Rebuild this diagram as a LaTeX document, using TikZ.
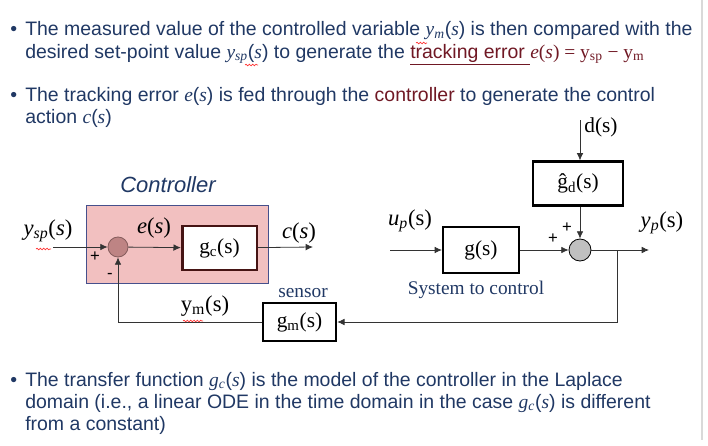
\documentclass[tikz,border=0pt]{standalone}
\usepackage{fontspec}
\setmainfont{Liberation Sans}
\newfontfamily\tnr{Liberation Serif}
\usepackage{tikz}
\usetikzlibrary{arrows.meta,positioning,decorations.pathmorphing}
\definecolor{textblue}{RGB}{32,56,100}
\definecolor{darkred}{RGB}{112,24,36}
\definecolor{ctrlpink}{RGB}{242,192,192}
\definecolor{ctrledge}{RGB}{70,80,140}
\definecolor{sumred}{RGB}{190,132,132}
\definecolor{gcedge}{RGB}{70,20,20}
\definecolor{sumgray}{RGB}{192,192,192}
\newcommand\mv[1]{{\tnr\itshape #1}}
\tikzset{
  bullet/.style={anchor=base west,inner sep=0pt,text=textblue,font=\fontsize{14.6}{17}\selectfont},
  tf/.style={rectangle,draw=black,line width=1.6pt,fill=white,inner sep=0pt,
             font=\tnr\fontsize{16}{18}\selectfont},
  sumpt/.style={circle,draw,inner sep=0pt,line width=0.6pt},
  sig/.style={-{Latex[length=5.5pt,width=5pt]},draw=black!80,line width=0.6pt},
  lbl/.style={inner sep=1pt,font=\tnr\fontsize{17}{19}\selectfont},
  sgn/.style={inner sep=0pt,font=\fontsize{12.5}{13}\selectfont},
  squiggle/.style={draw=red!80,line width=0.5pt,decorate,
                   decoration={snake,amplitude=0.6pt,segment length=2.5pt}},
}

\begin{document}
\begin{tikzpicture}[x=0.75pt,y=-0.75pt]
  \useasboundingbox (0,0) rectangle (708,446);
  \draw[black!15,line width=0.8pt] (702,0) -- (702,440);

  % top bullets
  \node[bullet] (b1) at (10,36) {\textbullet};
  \node[bullet] (l1) at (25,36)
     {The measured value of the controlled variable \mv{y}\textsubscript{\mv{m}}(\mv{s}) is then compared with the};
  \node[bullet] (l2) at (25,58)
     {desired set-point value \mv{y}\textsubscript{\mv{sp}}(\mv{s}) to generate the
      {\color{darkred}\underline{tracking error\ }{\tnr\mv{e}(\mv{s}) = y\textsubscript{sp} − y\textsubscript{m}}}};
  \node[bullet] (b2) at (10,101) {\textbullet};
  \node[bullet] (l3) at (25,101)
     {The tracking error \mv{e}(\mv{s}) is fed through the {\color{darkred}controller} to generate the control};
  \node[bullet] (l4) at (25,123) {action \mv{c}(\mv{s})};

  % controller
  \node[rectangle,draw=ctrledge,fill=ctrlpink,line width=0.6pt,
        minimum width=137pt,minimum height=58pt] (ctrlbox) at (177.5,244.5) {};
  \node[text=textblue,font=\itshape\fontsize{16.5}{18}\selectfont] (ctrllbl) at (168,185) {Controller};
  \node[sumpt,fill=sumred,draw=sumred!70!black,minimum size=15pt] (sum1) at (118,247) {};
  \node[tf,draw=gcedge,line width=2pt,minimum width=56pt,minimum height=33pt] (gc) at (219.5,248)
     {g\textsubscript{c}(s)};

  % process
  \node[tf,minimum width=57pt,minimum height=34pt] (g) at (481,250) {g(s)};
  \node[tf,minimum width=67.5pt,minimum height=33pt] (gd) at (578,183.5) {ĝ\textsubscript{d}(s)};
  \node[sumpt,fill=sumgray,minimum size=16.5pt] (sum2) at (580,250) {};
  \node[tf,minimum width=55pt,minimum height=28pt] (gm) at (299.5,322) {g\textsubscript{m}(s)};

  \coordinate (yspin) at (53,247);
  \coordinate (cout) at (313,247);
  \coordinate (upin) at (390,250);
  \coordinate (dtop) at (580,120);
  \coordinate (ypout) at (649,250);
  \coordinate (tap) at (617,250);

  \draw[sig] (yspin) -- (sum1);
  \draw[sig] (sum1) -- (gc);
  \draw[sig] (gc) -- (cout);
  \draw[sig] (upin) -- (g);
  \draw[sig] (g) -- (sum2);
  \draw[sig] (dtop) -- (sum2 |- gd.north);
  \draw[sig] (gd.south -| sum2) -- (sum2);
  \draw[sig] (sum2) -- (ypout);
  \draw[sig] (tap) |- (gm);
  \draw[sig] (gm) -| (sum1);

  % labels
  \node[lbl] (ysplbl) at (48,231) {\mv{y}\textsubscript{\mv{sp}}(\mv{s})};
  \node[lbl] (elbl) at (154,228) {\mv{e}(\mv{s})};
  \node[lbl] (clbl) at (299,233) {\mv{c}(\mv{s})};
  \node[lbl] (uplbl) at (410,221) {\mv{u}\textsubscript{\mv{p}}(s)};
  \node[lbl] (yplbl) at (662,223) {\mv{y}\textsubscript{\mv{p}}(s)};
  \node[lbl,font=\tnr\fontsize{16}{18}\selectfont] (dlbl) at (601,127) {d(s)};
  \node[lbl] (ymlbl) at (205,306) {y\textsubscript{m}(s)};
  \node[lbl,text=textblue,font=\tnr\fontsize{14.5}{16}\selectfont] (senslbl) at (303,293) {sensor};
  \node[lbl,text=textblue,font=\tnr\fontsize{14.5}{16}\selectfont] (syslbl) at (476,290) {System to control};
  \node[sgn] (p1) at (95,257) {+};
  \node[sgn] (m1) at (110,276) {-};
  \node[sgn] (p2) at (553,239) {+};
  \node[sgn] (p3) at (567,228) {+};

  % bottom bullet
  \node[bullet] (b3) at (10,386) {\textbullet};
  \node[bullet] (l5) at (25,386)
     {The transfer function \mv{g}\textsubscript{\mv{c}}(\mv{s}) is the model of the controller in the Laplace};
  \node[bullet] (l6) at (25,408)
     {domain (i.e., a linear ODE in the time domain in the case \mv{g}\textsubscript{\mv{c}}(\mv{s}) is different};
  \node[bullet] (l7) at (25,430) {from a constant)};

  % spell-check marks
  \draw[squiggle] (416,43) -- (427,43);
  \draw[squiggle] (245,65) -- (258,65);
  \draw[squiggle] (36,249) -- (51,249);
  \draw[squiggle] (183,321) -- (203,321);
\end{tikzpicture}
\end{document}
